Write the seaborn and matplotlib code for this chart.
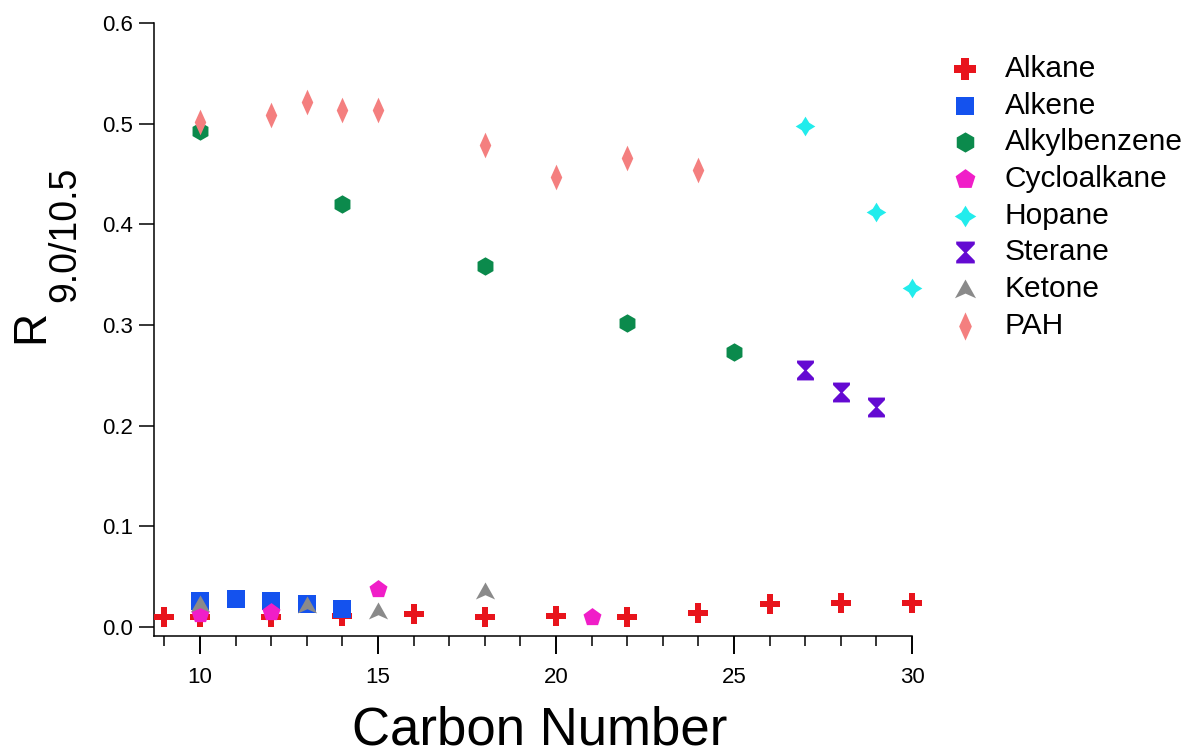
import numpy as np
import pandas as pd
import matplotlib
matplotlib.use("Agg")
import matplotlib.pyplot as plt
from matplotlib.path import Path
import seaborn as sns

# ---------------- data ----------------
alkane_x = [9, 10, 12, 14, 16, 18, 20, 22, 24, 26, 28, 30]
alkane_y = [0.010, 0.010, 0.010, 0.011, 0.013, 0.010, 0.011, 0.010, 0.014, 0.023, 0.024, 0.024]

alkene_x = [10, 11, 12, 13, 14]
alkene_y = [0.026, 0.028, 0.026, 0.023, 0.018]

alkylbenzene_x = [10, 14, 18, 22, 25]
alkylbenzene_y = [0.493, 0.420, 0.359, 0.302, 0.273]

cycloalkane_x = [10, 12, 15, 21]
cycloalkane_y = [0.013, 0.015, 0.038, 0.010]

hopane_x = [27, 29, 30]
hopane_y = [0.498, 0.412, 0.337]

sterane_x = [27, 28, 29]
sterane_y = [0.255, 0.233, 0.219]

ketone_x = [10, 13, 15, 18]
ketone_y = [0.023, 0.022, 0.016, 0.036]

pah_x = [10, 12, 13, 14, 15, 18, 20, 22, 24]
pah_y = [0.502, 0.509, 0.522, 0.514, 0.514, 0.479, 0.447, 0.466, 0.454]

categories = ["Alkane", "Alkene", "Alkylbenzene", "Cycloalkane",
              "Hopane", "Sterane", "Ketone", "PAH"]

x_ticks = [10, 15, 20, 25, 30]
y_ticks = [0.0, 0.1, 0.2, 0.3, 0.4, 0.5, 0.6]

# ---------------- markers ----------------
star4 = Path([(0, 1), (0.38, 0.38), (1, 0), (0.38, -0.38), (0, -1),
              (-0.38, -0.38), (-1, 0), (-0.38, 0.38), (0, 1)], closed=True)
hourglass = Path([(-0.85, 1), (0.85, 1), (0.85, 0.75), (0.12, 0.0), (0.85, -0.75),
                  (0.85, -1), (-0.85, -1), (-0.85, -0.75), (-0.12, 0.0),
                  (-0.85, 0.75), (-0.85, 1)], closed=True)
notched_tri = Path([(0, 0.85), (0.9, -0.75), (0, -0.35), (-0.9, -0.75), (0, 0.85)],
                   closed=True)
thin_dia = Path([(0, 1), (0.45, 0), (0, -1), (-0.45, 0), (0, 1)], closed=True)

series = {
    "Alkane": (alkane_x, alkane_y, "P", "#e8141c", 200),
    "Alkene": (alkene_x, alkene_y, "s", "#1452ee", 150),
    "Alkylbenzene": (alkylbenzene_x, alkylbenzene_y, "h", "#0b8a4c", 175),
    "Cycloalkane": (cycloalkane_x, cycloalkane_y, "p", "#f01ec8", 185),
    "Hopane": (hopane_x, hopane_y, star4, "#22ecec", 200),
    "Sterane": (sterane_x, sterane_y, hourglass, "#640ad2", 205),
    "Ketone": (ketone_x, ketone_y, notched_tri, "#8a8a8a", 190),
    "PAH": (pah_x, pah_y, thin_dia, "#f47f7f", 340),
}

# ---------------- figure ----------------
sns.set_style("ticks")
plt.rcParams["font.family"] = ["Liberation Sans", "DejaVu Sans"]
plt.rcParams["text.color"] = "black"
plt.rcParams["axes.labelcolor"] = "black"
plt.rcParams["xtick.color"] = "black"
plt.rcParams["ytick.color"] = "black"

fig = plt.figure(figsize=(11.88, 7.54), dpi=100)
ax = fig.add_axes([154 / 1188, 1 - 636 / 754, (912 - 154) / 1188, (636 - 23) / 754])

for name in categories:
    xs, ys, m, c, s = series[name]
    df = pd.DataFrame({"x": xs, "y": ys})
    sns.scatterplot(data=df, x="x", y="y", marker=m, color=c, s=s,
                    linewidth=0, edgecolor=c, label=name, ax=ax, legend=False,
                    clip_on=False, zorder=3)

ax.set_xlim(8.71, 30.0)
ax.set_ylim(-0.0089, 0.6)
ax.set_xticks(x_ticks)
ax.set_xticks(np.arange(9, 31, 1), minor=True)
ax.set_yticks(y_ticks)
ax.set_yticklabels([f"{v:.1f}" for v in y_ticks])
ax.set_xticklabels([str(v) for v in x_ticks])

for side in ["top", "right"]:
    ax.spines[side].set_visible(False)
for side in ["left", "bottom"]:
    ax.spines[side].set_linewidth(1.1)
    ax.spines[side].set_color("black")

ax.tick_params(axis="x", which="major", direction="out", length=13, width=1.4,
               labelsize=16, pad=9.5)
ax.tick_params(axis="x", which="minor", direction="out", length=7, width=1.1)
ax.tick_params(axis="y", which="major", direction="out", length=11, width=1.1,
               labelsize=16, pad=4)

ax.set_xlabel("Carbon Number", fontsize=38)
ax.xaxis.set_label_coords((540 - 154) / 758, -0.114)

# y label: "R" with a large subscript
ax.set_ylabel("")
fig.text(43 / 1188, 1 - 343 / 754, "R", fontsize=33, rotation=90,
         rotation_mode="anchor", ha="left", va="baseline")
fig.text(75 / 1188, 1 - 302 / 754, "9.0/10.5", fontsize=27, rotation=90,
         rotation_mode="anchor", ha="left", va="baseline")

handles, labels = ax.get_legend_handles_labels()
leg = ax.legend(handles, labels, loc="upper left",
                bbox_to_anchor=(932 / 1188, 1 - 40 / 754),
                bbox_transform=fig.transFigure, frameon=False,
                fontsize=21.5, labelspacing=0.29, handletextpad=0.73,
                borderpad=0, handlelength=1.2, markerscale=1.1)

fig.savefig("out.png", dpi=100)
